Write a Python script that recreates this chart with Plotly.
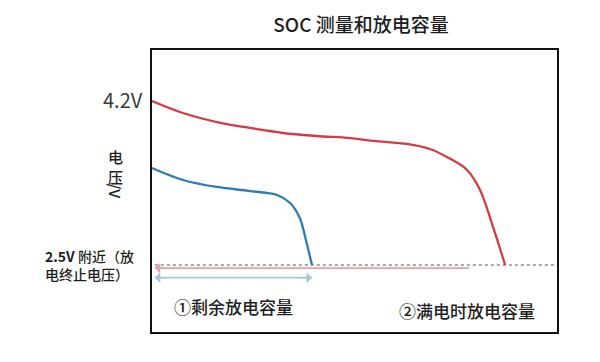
import plotly.graph_objects as go

# Data (capacity in % of plot width, voltage in V)
full_cap = [0, 7.65, 16.0, 24.2, 32.3, 40.7, 48.9, 54.6, 63.0, 68.6, 72.8, 77.8, 81.0, 84.2, 87.2]
full_v = [4.19, 4.066, 3.973, 3.912, 3.860, 3.829, 3.808, 3.778, 3.747, 3.695, 3.613, 3.479, 3.273, 2.892, 2.50]
rem_cap = [0, 7.65, 16.0, 24.2, 30.9, 34.1, 36.5, 38.0, 39.5]
rem_v = [3.499, 3.376, 3.304, 3.262, 3.221, 3.139, 2.984, 2.757, 2.50]
cutoff_v = 2.5
top_v = 4.2
cutoff_x = [0.7, 100]
full_arrow = [0.7, 78.3, 2.469]
rem_arrow = [0.7, 39.5, 2.37]

FONT = "Noto Sans CJK SC"
RED = "#d63a42"
BLUE = "#2f7bb4"
TXT = "#1e1e1e"

fig = go.Figure()
fig.add_trace(go.Scatter(x=cutoff_x, y=[cutoff_v, cutoff_v], mode="lines",
                         line=dict(color="#8a8a8a", width=1.5, dash="dot"), hoverinfo="skip"))
fig.add_trace(go.Scatter(x=full_arrow[:2], y=[full_arrow[2]] * 2, mode="lines",
                         line=dict(color="#e3a2aa", width=1.8), hoverinfo="skip"))
fig.add_trace(go.Scatter(x=rem_arrow[:2], y=[rem_arrow[2]] * 2, mode="lines",
                         line=dict(color="#a3c6dd", width=1.8), hoverinfo="skip"))
fig.add_trace(go.Scatter(x=full_cap, y=full_v, mode="lines", line=dict(color=RED, width=2.3, shape="spline"),
                         hoverinfo="skip"))
fig.add_trace(go.Scatter(x=rem_cap, y=rem_v, mode="lines", line=dict(color=BLUE, width=2.3, shape="spline"),
                         hoverinfo="skip"))

# arrowheads
for xh, xt, yv, col in [(full_arrow[0], full_arrow[0] + 3, full_arrow[2], "#e3a2aa"),
                        (rem_arrow[0], rem_arrow[0] + 3, rem_arrow[2], "#a3c6dd"),
                        (rem_arrow[1], rem_arrow[1] - 3, rem_arrow[2], "#a3c6dd")]:
    fig.add_annotation(x=xh, y=yv, ax=xt, ay=yv, xref="x", yref="y", axref="x", ayref="y",
                       showarrow=True, arrowhead=1, arrowsize=1.2, arrowwidth=1.5, arrowcolor=col, text="")

fig.add_annotation(x=-0.017, y=top_v, xref="paper", yref="y", xanchor="right", yanchor="middle",
                   text="4.2V", showarrow=False, font=dict(size=20, color="#3a3a3a", family=FONT))
fig.add_annotation(x=-0.09, y=0.587, xref="paper", yref="paper", xanchor="center", yanchor="middle",
                   text="电<br>压", showarrow=False, font=dict(size=15, color=TXT, family=FONT, weight=500))
fig.add_annotation(x=-0.09, y=0.50, xref="paper", yref="paper", xanchor="center", yanchor="middle",
                   text="/V", textangle=90, showarrow=False, font=dict(size=15, color=TXT, family=FONT, weight=500))
fig.add_annotation(x=-0.27, y=cutoff_v, xref="paper", yref="y", xanchor="left", yanchor="middle",
                   text="<b>2.5V</b> 附近（放<br>电终止电压）", align="left", showarrow=False,
                   font=dict(size=14, color=TXT, family=FONT, weight=500))
fig.add_annotation(x=0.05, y=0.09, xref="paper", yref="paper", xanchor="left", yanchor="middle",
                   text="①剩余放电容量", showarrow=False, font=dict(size=17, color=TXT, family=FONT, weight=500))
fig.add_annotation(x=0.951, y=0.078, xref="paper", yref="paper", xanchor="right", yanchor="middle",
                   text="②满电时放电容量", showarrow=False, font=dict(size=17, color=TXT, family=FONT, weight=500))

fig.update_layout(
    width=600, height=362,
    margin=dict(l=152, r=43, t=50, b=30),
    paper_bgcolor="white", plot_bgcolor="white",
    showlegend=False,
    title=dict(text="SOC 测量和放电容量", x=361 / 600, xanchor="center", y=1 - 25 / 362, yanchor="middle",
               font=dict(size=19, color=TXT, family=FONT, weight=500)),
    xaxis=dict(range=[0, 100], showgrid=False, zeroline=False, showticklabels=False, ticks="",
               showline=True, mirror=True, linecolor="#111111", linewidth=2, fixedrange=True),
    yaxis=dict(range=[1.81, 4.715], showgrid=False, zeroline=False, showticklabels=False, ticks="",
               showline=True, mirror=True, linecolor="#111111", linewidth=2, fixedrange=True),
)
fig.write_html("out.html", config={"displayModeBar": False, "staticPlot": True},
               post_script="document.body.style.margin='0';")
